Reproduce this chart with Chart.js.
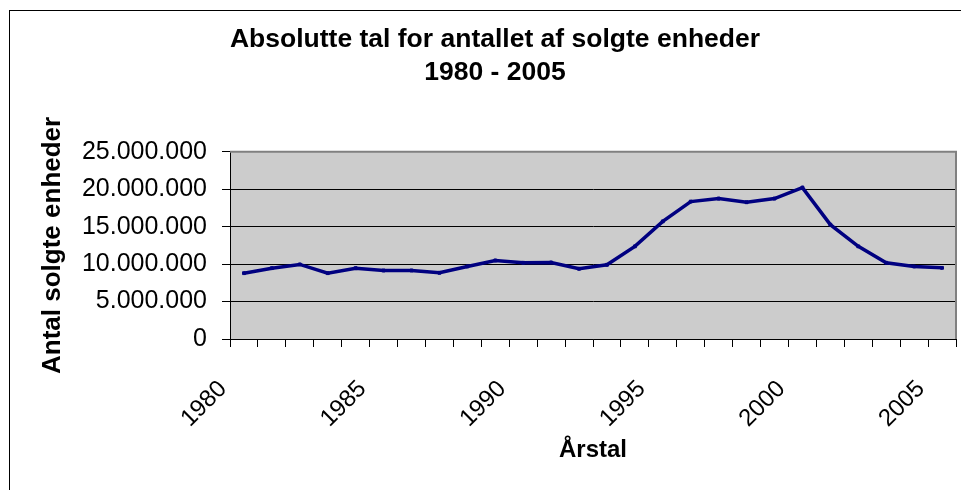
<!DOCTYPE html>
<html>
<head>
<meta charset="utf-8">
<script src="https://cdn.jsdelivr.net/npm/chart.js@4/dist/chart.umd.min.js"></script>
<style>
  html, body { margin: 0; padding: 0; background: #ffffff; }
  #wrap { width: 961px; height: 490px; }
</style>
</head>
<body>
<div id="wrap"><canvas id="c" width="961" height="490"></canvas></div>
<script>
const years = ['1980','1981','1982','1983','1984','1985','1986','1987','1988','1989',
               '1990','1991','1992','1993','1994','1995','1996','1997','1998','1999',
               '2000','2001','2002','2003','2004','2005'];
const unitsSold = [8790000, 9460000, 9960000, 8790000, 9460000, 9150000, 9150000, 8840000, 9690000, 10490000,
                   10180000, 10220000, 9380000, 9910000, 12370000, 15710000, 18350000, 18750000, 18260000, 18750000,
                   20220000, 15270000, 12370000, 10180000, 9690000, 9500000];
const titleLines = ['Absolutte tal for antallet af solgte enheder', '1980 - 2005'];
const yTitle = 'Antal solgte enheder';
const xTitle = 'Årstal';
const yMin = 0, yMax = 25000000, yStep = 5000000;

const FONT = "'Liberation Sans', Arial, Helvetica, sans-serif";

function fmtDK(v) {
  return String(Math.round(v)).replace(/\B(?=(\d{3})+(?!\d))/g, '.');
}

const plotDecor = {
  id: 'plotDecor',
  beforeDraw(chart) {
    const {ctx, chartArea: a} = chart;
    ctx.save();
    ctx.fillStyle = '#cccccc';
    ctx.fillRect(a.left, a.top, a.right - a.left, a.bottom - a.top);
    ctx.restore();
  },
  afterDraw(chart) {
    const {ctx, chartArea: a} = chart;
    ctx.save();
    ctx.strokeStyle = '#808080';
    ctx.lineWidth = 2;
    ctx.beginPath();
    ctx.moveTo(a.left, a.top);
    ctx.lineTo(a.right, a.top);
    ctx.lineTo(a.right, a.bottom);
    ctx.stroke();
    // outer chart frame
    ctx.strokeStyle = '#000000';
    ctx.lineWidth = 1;
    ctx.strokeRect(9.5, 10.5, 1000, 1000);
    ctx.restore();
  }
};

new Chart(document.getElementById('c'), {
  type: 'line',
  data: {
    labels: years,
    datasets: [{
      data: unitsSold,
      borderColor: '#000080',
      backgroundColor: '#000080',
      borderWidth: 3.5,
      pointRadius: 2,
      pointStyle: 'rect',
      pointBorderWidth: 1,
      tension: 0,
      fill: false
    }]
  },
  options: {
    responsive: false,
    animation: false,
    devicePixelRatio: 1,
    layout: { padding: { left: 34, right: 5, top: 0, bottom: 0 } },
    plugins: {
      legend: { display: false },
      tooltip: { enabled: false },
      title: {
        display: true,
        text: titleLines,
        color: '#000000',
        font: { family: FONT, size: 26.5, weight: 'bold', lineHeight: 1.26 },
        padding: { top: 23, bottom: 62 }
      }
    },
    scales: {
      x: {
        type: 'category',
        offset: true,
        grid: {
          offset: true,
          drawOnChartArea: false,
          drawTicks: true,
          tickLength: 8,
          color: '#000000',
          lineWidth: 1
        },
        border: { display: true, color: '#000000', width: 1 },
        ticks: {
          autoSkip: false,
          minRotation: 45,
          maxRotation: 45,
          padding: 28,
          labelOffset: -21,
          color: '#000000',
          font: { family: FONT, size: 24 },
          callback: function(value, index) {
            const y = years[index];
            return (Number(y) % 5 === 0) ? y : '';
          }
        },
        title: {
          display: true,
          text: xTitle,
          color: '#000000',
          font: { family: FONT, size: 24, weight: 'bold' },
          padding: { top: 0, bottom: 25 }
        },
        afterFit(scale) {
          scale.height = 151;
          scale.paddingLeft = 0;
          scale.paddingRight = 0;
        }
      },
      y: {
        min: yMin,
        max: yMax,
        grid: {
          drawOnChartArea: true,
          drawTicks: true,
          tickLength: 8,
          color: '#000000',
          lineWidth: 1
        },
        border: { display: true, color: '#000000', width: 1 },
        ticks: {
          stepSize: yStep,
          padding: 15,
          color: '#000000',
          font: { family: FONT, size: 25 },
          callback: function(value) { return fmtDK(value); }
        },
        title: {
          display: true,
          text: yTitle,
          color: '#000000',
          font: { family: FONT, size: 26, weight: 'bold' },
          padding: { top: 3, bottom: 0 }
        },
        afterFit(scale) {
          scale.width = 196;
        }
      }
    }
  },
  plugins: [plotDecor]
});
</script>
</body>
</html>
